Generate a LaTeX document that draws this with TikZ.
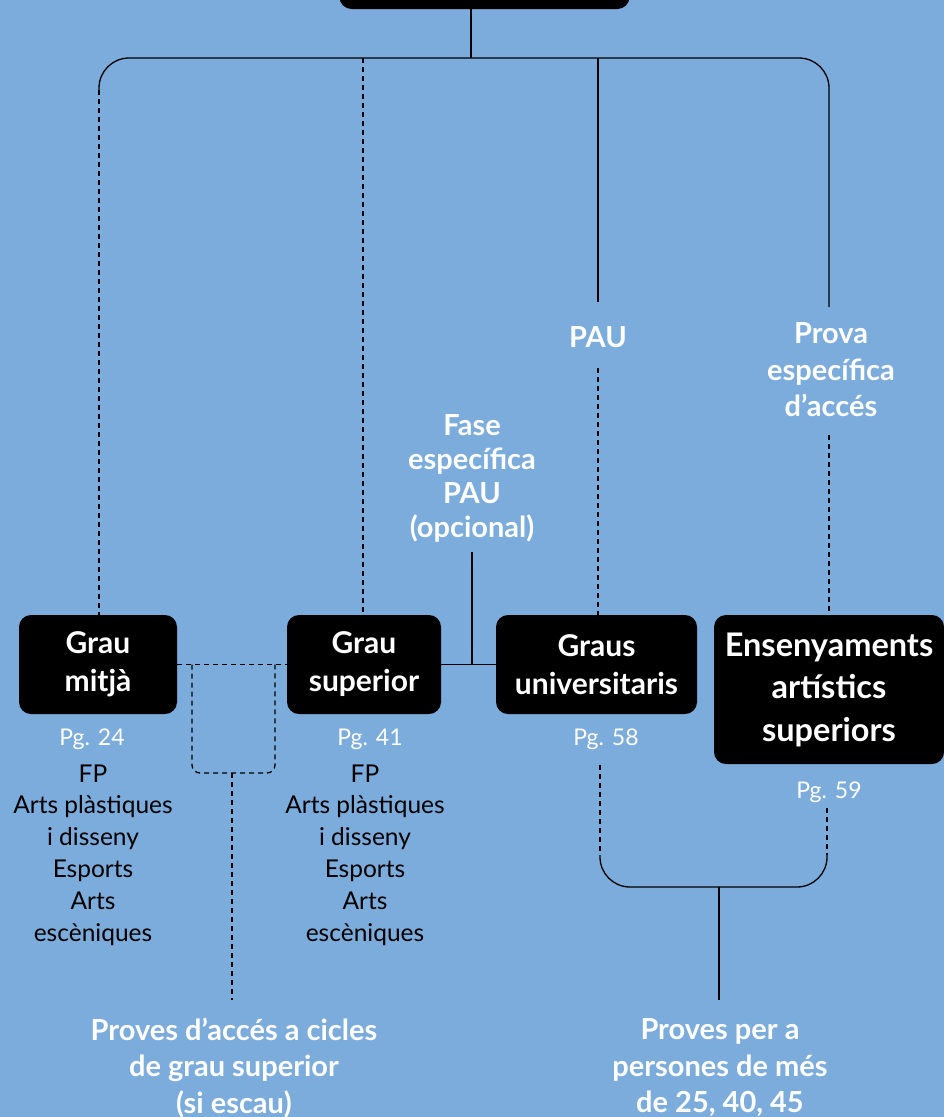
\documentclass[tikz,border=0pt]{standalone}
\usepackage{fontspec}
\setmainfont{Lato}
\usetikzlibrary{calc}
\definecolor{bg}{HTML}{7BACDC}
\begin{document}
\begin{tikzpicture}[x=1pt,y=-1pt,
 box/.style={fill=black,rounded corners=12pt,text=white,font=\bfseries\fontsize{30}{38}\selectfont,align=center,inner sep=0pt},
 lbl/.style={text=white,font=\bfseries\fontsize{29}{36.5}\selectfont,align=center,inner sep=0pt},
 pg/.style={text=white,font=\fontsize{23}{28}\selectfont,inner sep=0pt,anchor=base},
 lst/.style={text=black,font=\fontsize{24.5}{31.8}\selectfont,align=center,inner sep=0pt},
 ln/.style={draw=black,line width=1.3pt},
 dsh/.style={ln,dash pattern=on 5pt off 4pt}]
\fill[bg] (0,0) rectangle (944,1117);
\useasboundingbox (0,0) rectangle (944,1117);
% boxes
\node[box,minimum width=290pt,minimum height=40pt] (top) at (484.5,-11) {};
\node[box,minimum width=158pt,minimum height=99pt] (gm) at (98,664.5) {Grau\\mitjà};
\node[box,minimum width=154pt,minimum height=99pt] (gs) at (364,664.5) {Grau\\superior};
\node[box,minimum width=201pt,minimum height=99pt] (gu) at (596.5,664.5) {Graus\\universitaris};
\node[box,minimum width=230pt,minimum height=149pt,font=\bfseries\fontsize{32.5}{42.5}\selectfont] (ea) at (829,689.5) {Ensenyaments\\artístics\\superiors};
% page refs
\node[pg] (pg1) at (92,745) {Pg. 24};
\node[pg] (pg2) at (370,745) {Pg. 41};
\node[pg] (pg3) at (606,745) {Pg. 58};
\node[pg] (pg4) at (829,798) {Pg. 59};
% lists
\node[lst] (l1) at (93,855) {FP\\Arts plàstiques\\i disseny\\Esports\\Arts\\escèniques};
\node[lst] (l2) at (365,855) {FP\\Arts plàstiques\\i disseny\\Esports\\Arts\\escèniques};
% labels
\node[lbl] (pau) at (598,337) {PAU};
\node[lbl] (prova) at (831,370) {Prova\\específica\\d’accés};
\node[lbl,font=\bfseries\fontsize{29}{34}\selectfont] (fase) at (472,478) {Fase\\específica\\PAU\\(opcional)};
\node[lbl] (pcgs) at (234,1068) {Proves d’accés a cicles\\de grau superior\\(si escau)};
\node[lbl] (pmes) at (720,1068) {Proves per a\\persones de més\\de 25, 40, 45};
% coordinates
\coordinate (hub) at (471,58);
\coordinate (cL) at (99,90);
\coordinate (cLt) at (99,58);
\coordinate (cRt) at (829,58);
\coordinate (provaTop) at (829,307);
\coordinate (gsT) at (363,58);
\coordinate (pauT) at (598,58);
\coordinate (pauB) at (598,302);
\coordinate (pauD) at (598,368);
\coordinate (provaD) at (829,435);
\coordinate (faseB) at (472,552);
\coordinate (faseJ) at (472,664.5);
\coordinate (u1) at (192,664.5);
\coordinate (u2) at (192,773);
\coordinate (u3) at (275,773);
\coordinate (u4) at (275,664.5);
\coordinate (uB) at (232,773);
\coordinate (pcgsT) at (232,1000);
\coordinate (r1) at (600,765);
\coordinate (r2) at (600,855);
\coordinate (r3) at (600,887);
\coordinate (r4) at (827,887);
\coordinate (r5) at (827,855);
\coordinate (r6) at (827,808);
\coordinate (rJ) at (719,887);
\coordinate (pmesT) at (719,1000);
% connectors
\draw[ln] (top.south -| hub) -- (hub);
\draw[ln,rounded corners=30pt] (cL) -- (cLt) -- (cRt) -- (provaTop);
\draw[dsh] (cL) -- (gm.north -| cL);
\draw[dsh] (gsT) -- (gs.north -| gsT);
\draw[ln] (pauT) -- (pauB);
\draw[dsh] (pauD) -- (gu.north -| pauD);
\draw[dsh] (provaD) -- (ea.north -| provaD);
\draw[ln] (faseB) -- (faseJ);
\draw[ln] (gs.east) -- (gu.west);
\draw[dsh] (gm.east) -- (gs.west);
\draw[dsh,rounded corners=8pt] (u1) -- (u2) -- (u3) -- (u4);
\draw[dsh] (uB) -- (pcgsT);
\draw[dsh] (r1) -- (r2);
\draw[dsh] (r6) -- (r5);
\draw[ln,rounded corners=30pt] (r2) -- (r3) -- (r4) -- (r5);
\draw[ln] (rJ) -- (pmesT);
\end{tikzpicture}
\end{document}
